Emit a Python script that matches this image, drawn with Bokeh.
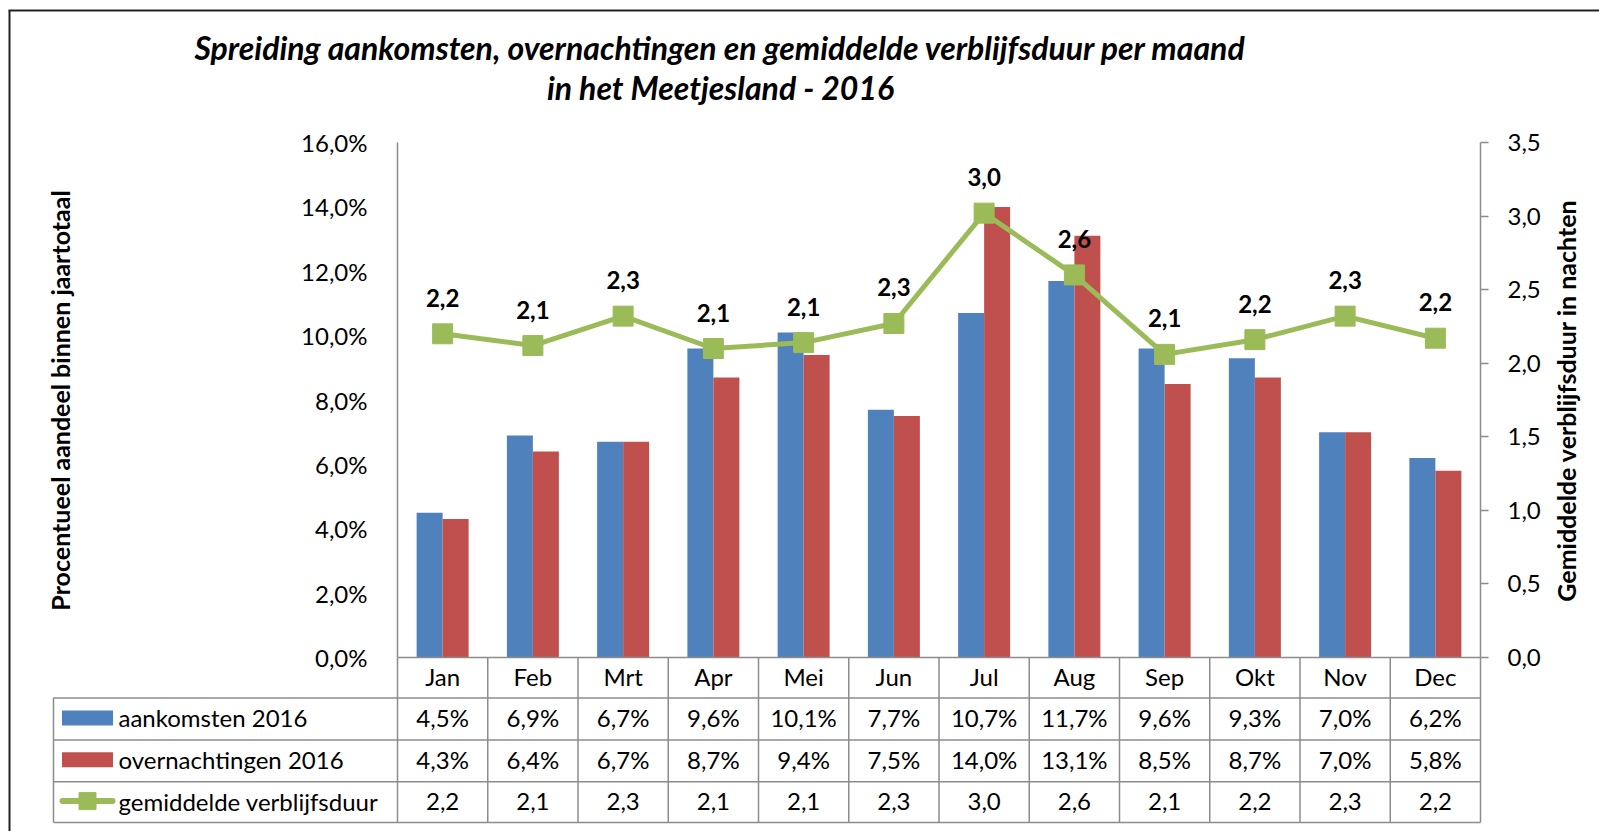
import numpy as np
from bokeh.plotting import figure
from bokeh.models import (Range1d, LinearAxis, SingleIntervalTicker, CustomJSTickFormatter,
                          ColumnDataSource)
from bokeh.core.properties import value
from bokeh.transform import dodge
from bokeh.embed import file_html
from bokeh.resources import INLINE

# ---------------- data ----------------
months = ["Jan", "Feb", "Mrt", "Apr", "Mei", "Jun", "Jul", "Aug", "Sep", "Okt", "Nov", "Dec"]
aankomsten = [4.5, 6.9, 6.7, 9.6, 10.1, 7.7, 10.7, 11.7, 9.6, 9.3, 7.0, 6.2]
overnachtingen = [4.3, 6.4, 6.7, 8.7, 9.4, 7.5, 14.0, 13.1, 8.5, 8.7, 7.0, 5.8]
verblijfsduur = [2.20, 2.12, 2.32, 2.10, 2.14, 2.27, 3.02, 2.60, 2.06, 2.16, 2.32, 2.17]
series_names = ["aankomsten 2016", "overnachtingen 2016", "gemiddelde verblijfsduur"]
title_lines = ["Spreiding aankomsten, overnachtingen en gemiddelde verblijfsduur per maand",
               "in het Meetjesland - 2016"]
left_title = "Procentueel aandeel binnen jaartotaal"
right_title = "Gemiddelde verblijfsduur in nachten"

BLUE, RED, GREEN = "#4F81BD", "#C0504D", "#9BBB59"
GRAY = "#8C8C8C"
FONT = value("Lato")
FS = "24px"

# ---------------- layout (figure pixels) ----------------
W, H = 1599, 831
PLOT_L, PLOT_R = 397, 1480          # plot area left/right
PLOT_T, PLOT_B = 142, 657           # plot area top (max) / bottom (zero)
LEFT_MAX, RIGHT_MAX = 16.0, 3.5
n = len(months)
col_w = (PLOT_R - PLOT_L) / n
ly_per = (PLOT_B - PLOT_T) / LEFT_MAX
ry_per = (PLOT_B - PLOT_T) / RIGHT_MAX

x_range = Range1d(-PLOT_L / col_w - 0.5, (W - PLOT_L) / col_w - 0.5)
y_range = Range1d(-(H - PLOT_B) / ly_per, PLOT_B / ly_per)

p = figure(width=W, height=H, x_range=x_range, y_range=y_range,
           x_axis_type=None, y_axis_type=None, toolbar_location=None,
           output_backend="svg", min_border=0, outline_line_color=None,
           background_fill_color="white", border_fill_color="white")
p.extra_y_ranges = {"right": Range1d(-(H - PLOT_B) / ry_per, PLOT_B / ry_per),
                    "px": Range1d(H, 0)}
p.extra_x_ranges = {"px": Range1d(0, W)}
p.xgrid.visible = False
p.ygrid.visible = False

idx = list(range(n))
src = ColumnDataSource(dict(x=idx, month=months, a=aankomsten, o=overnachtingen, v=verblijfsduur,
                            a_lbl=[f"{v:.1f}%".replace(".", ",") for v in aankomsten],
                            o_lbl=[f"{v:.1f}%".replace(".", ",") for v in overnachtingen],
                            v_lbl=[f"{v:.1f}".replace(".", ",") for v in verblijfsduur]))

bw = 26 / col_w
p.vbar(x=dodge("x", -bw / 2, range=p.x_range), top="a", width=bw, bottom=0, source=src,
       fill_color=BLUE, line_color=None)
p.vbar(x=dodge("x", bw / 2, range=p.x_range), top="o", width=bw, bottom=0, source=src,
       fill_color=RED, line_color=None)

# axes
fmt_l = CustomJSTickFormatter(code="return tick.toFixed(1).replace('.', ',') + '%';")
fmt_r = CustomJSTickFormatter(code="return tick.toFixed(1).replace('.', ',');")
ax_l = LinearAxis(ticker=SingleIntervalTicker(interval=2), formatter=fmt_l,
                  fixed_location=-0.5, bounds=(0, LEFT_MAX))
ax_r = LinearAxis(y_range_name="right", ticker=SingleIntervalTicker(interval=0.5), formatter=fmt_r,
                  fixed_location=n - 0.5, bounds=(0, RIGHT_MAX))
for ax, tick_out, standoff in ((ax_l, 0, 26), (ax_r, 8, 19)):
    ax.axis_line_color = GRAY
    ax.axis_line_width = 1.5
    ax.major_tick_line_color = GRAY
    ax.major_tick_line_width = 1.5
    ax.major_tick_out = tick_out
    ax.major_tick_in = 0
    ax.minor_tick_line_color = None
    ax.major_label_text_font = "Lato"
    ax.major_label_text_font_size = FS
    ax.major_label_text_color = "black"
    ax.major_label_standoff = standoff
p.add_layout(ax_l, "left")
p.add_layout(ax_r, "right")

# line with markers
p.line(x="x", y="v", source=src, y_range_name="right", line_color=GREEN, line_width=5)
p.scatter(x="x", y="v", source=src, y_range_name="right", marker="square", size=20,
          fill_color=GREEN, line_color=GREEN)
p.text(x="x", y="v", text="v_lbl", source=src, y_range_name="right", y_offset=-36,
       text_align="center", text_baseline="middle", text_font=FONT, text_font_style="bold",
       text_font_size=FS, text_color="black")

# ---------------- outer border ----------------
p.segment(x0=[8, 9], y0=[10, 10], x1=[W, 9], y1=[10, H], x_range_name="px", y_range_name="px",
          line_color="#222222", line_width=2)

# ---------------- title ----------------
p.text(x=[720, 720], y=[47, 87], text=title_lines, x_range_name="px", y_range_name="px",
       text_align="center", text_baseline="middle", text_font=FONT, text_font_style="bold italic",
       text_font_size="32px", text_color="black")

# axis titles
p.text(x=[59], y=[400], text=[left_title], x_range_name="px", y_range_name="px", angle=np.pi / 2,
       text_align="center", text_baseline="middle", text_font=FONT, text_font_style="bold",
       text_font_size="25px", text_color="black")
p.text(x=[1565], y=[400], text=[right_title], x_range_name="px", y_range_name="px", angle=np.pi / 2,
       text_align="center", text_baseline="middle", text_font=FONT, text_font_style="bold",
       text_font_size="25px", text_color="black")

# ---------------- data table ----------------
row_lines = [PLOT_B, 697.5, 739.4, 781.2, 822]
TBL_L = 53
# horizontal lines
p.segment(x0=[PLOT_L] + [TBL_L] * 4, x1=[PLOT_R] * 5, y0=row_lines, y1=row_lines,
          x_range_name="px", y_range_name="px", line_color=GRAY, line_width=1.5)
# vertical: legend column left border
p.segment(x0=[TBL_L], x1=[TBL_L], y0=[row_lines[1]], y1=[row_lines[-1]],
          x_range_name="px", y_range_name="px", line_color=GRAY, line_width=1.5)
# vertical: column borders (data x, px y)
bounds_x = [i - 0.5 for i in range(n + 1)]
p.segment(x0=bounds_x, x1=bounds_x, y0=[row_lines[0]] * (n + 1), y1=[row_lines[-1]] * (n + 1),
          y_range_name="px", line_color=GRAY, line_width=1.5)

row_c = [(row_lines[i] + row_lines[i + 1]) / 2 - 1 for i in range(4)]
for col, yc in (("month", row_c[0]), ("a_lbl", row_c[1]), ("o_lbl", row_c[2]), ("v_lbl", row_c[3])):
    p.text(x="x", y=yc, text=col, source=src, y_range_name="px", text_align="center",
           text_baseline="middle", text_font=FONT, text_font_size=FS, text_color="black")

# legend keys in table
p.rect(x=[87, 87], y=row_c[1:3], width=51, height=15, x_range_name="px", y_range_name="px",
       fill_color=[BLUE, RED], line_color=None)
p.segment(x0=[62], x1=[112], y0=[row_c[3]], y1=[row_c[3]], x_range_name="px", y_range_name="px",
          line_color=GREEN, line_width=6, line_cap="round")
p.scatter(x=[87], y=[row_c[3]], x_range_name="px", y_range_name="px", marker="square", size=17,
          fill_color=GREEN, line_color=GREEN)
p.text(x=[118] * 3, y=row_c[1:], text=series_names, x_range_name="px", y_range_name="px",
       text_align="left", text_baseline="middle", text_font=FONT, text_font_size=FS,
       text_color="black")

open("out.html", "w").write(file_html(p, INLINE))
